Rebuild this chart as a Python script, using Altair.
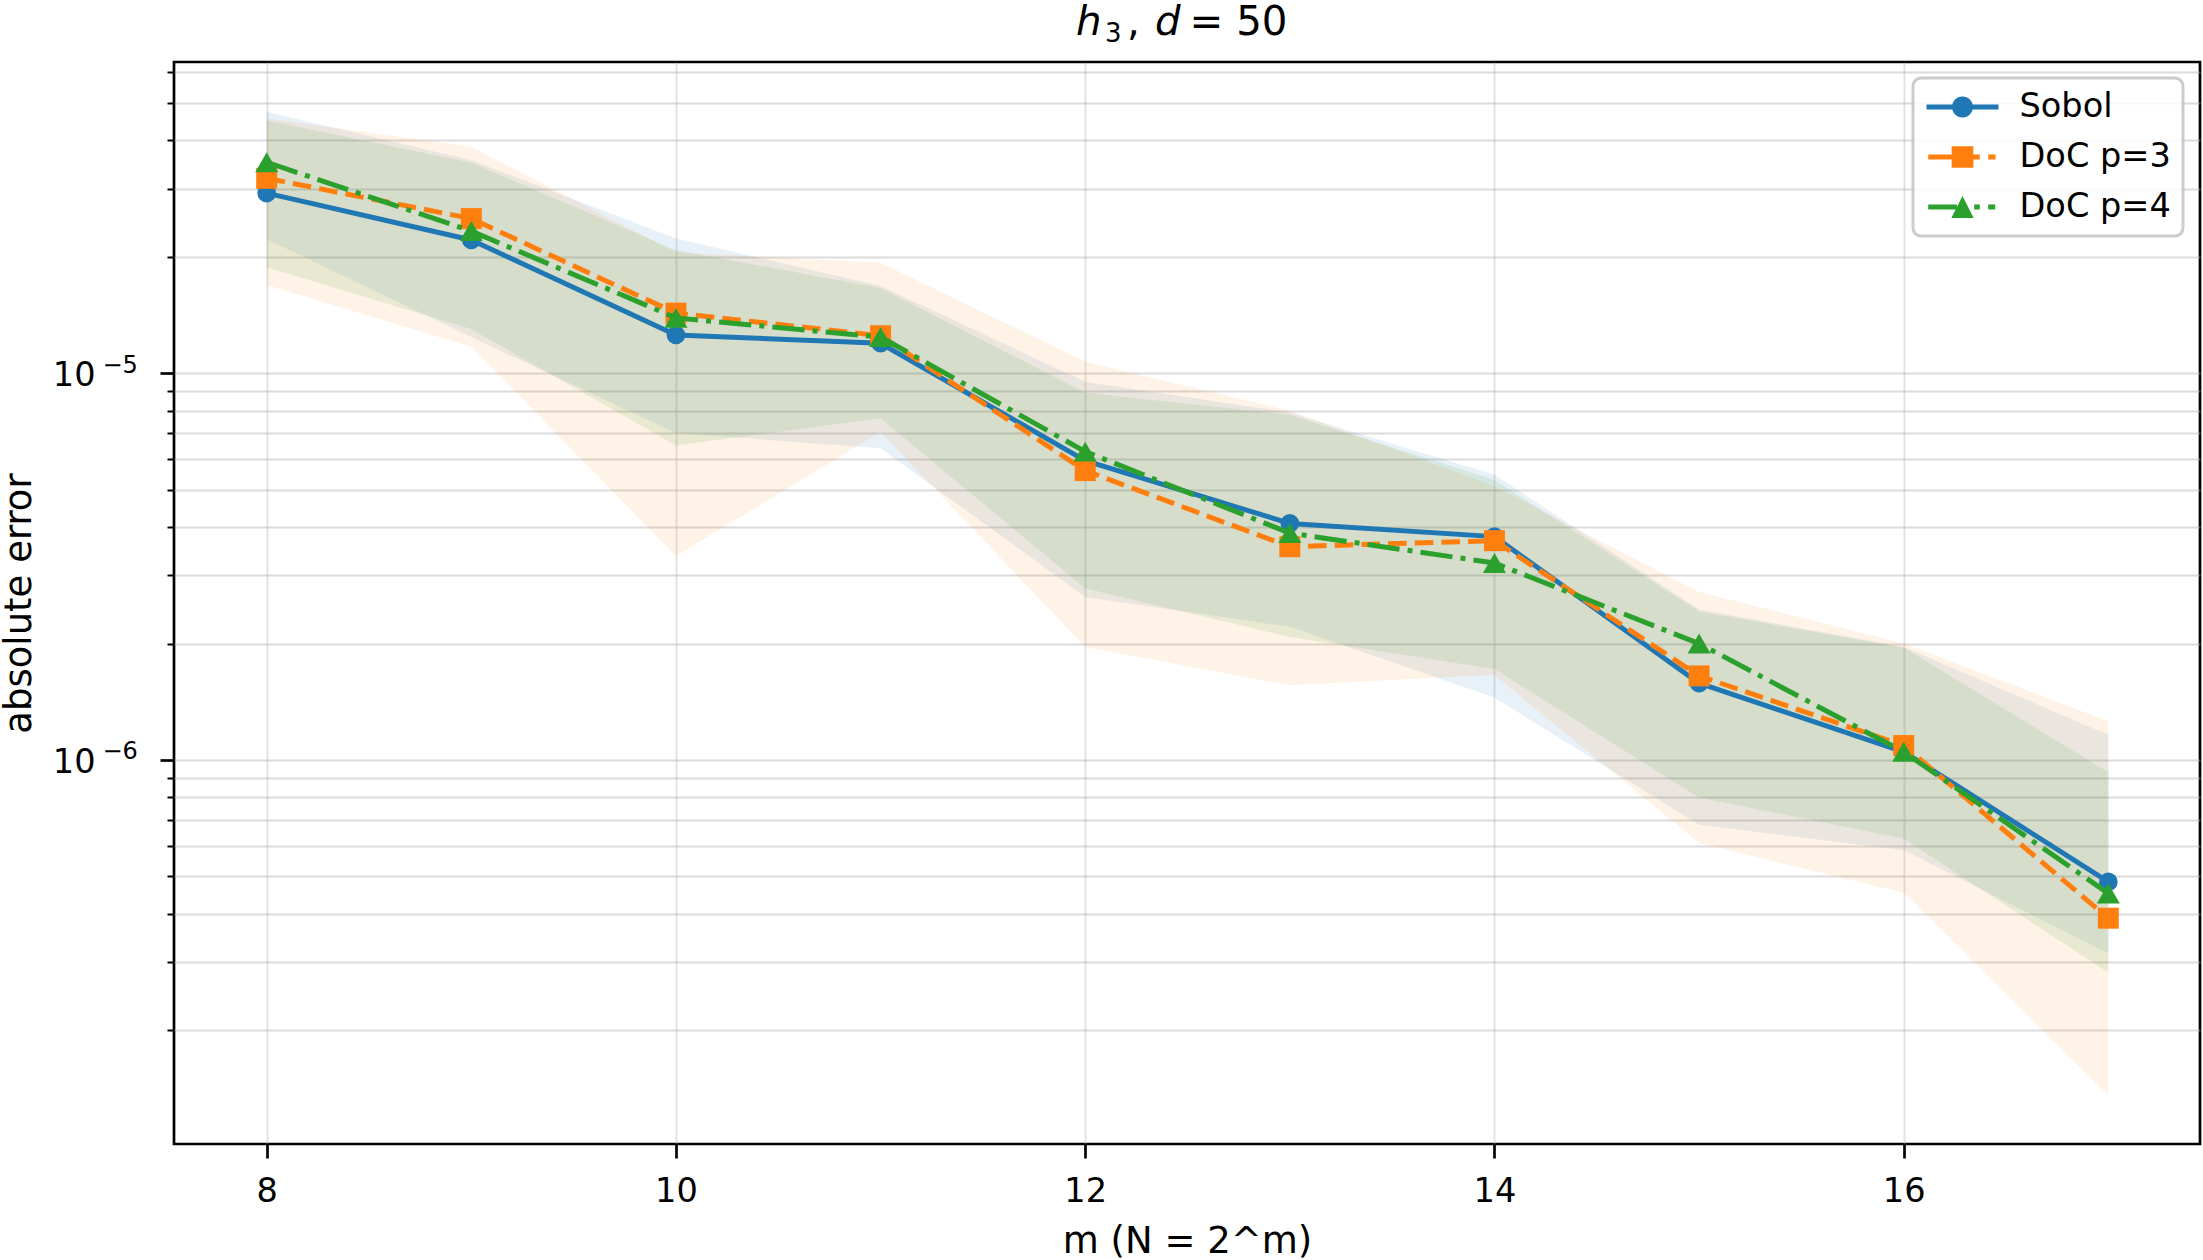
import altair as alt
import pandas as pd

# ---------------- data ----------------
m_values = [8, 9, 10, 11, 12, 13, 14, 15, 16, 17]
series_names = ["Sobol", "DoC p=3", "DoC p=4"]
series_colors = ["#1f77b4", "#ff7f0e", "#2ca02c"]

sobol_err = [2.92e-5, 2.21e-5, 1.255e-5, 1.195e-5, 5.94e-6, 4.09e-6, 3.78e-6, 1.58e-6, 1.05e-6, 4.84e-7]
sobol_hi = [4.74e-5, 3.55e-5, 2.23e-5, 1.68e-5, 9.5e-6, 7.9e-6, 5.46e-6, 2.45e-6, 1.96e-6, 1.16e-6]
sobol_lo = [2.22e-5, 1.24e-5, 7.0e-6, 6.4e-6, 2.64e-6, 2.21e-6, 1.45e-6, 6.8e-7, 5.85e-7, 3.16e-7]

doc3_err = [3.19e-5, 2.51e-5, 1.43e-5, 1.25e-5, 5.6e-6, 3.56e-6, 3.69e-6, 1.65e-6, 1.09e-6, 3.9e-7]
doc3_hi = [4.56e-5, 3.85e-5, 2.05e-5, 1.93e-5, 1.07e-5, 8.0e-6, 5.1e-6, 2.72e-6, 2.0e-6, 1.26e-6]
doc3_lo = [1.69e-5, 1.17e-5, 3.37e-6, 7.06e-6, 1.96e-6, 1.56e-6, 1.66e-6, 6.1e-7, 4.54e-7, 1.36e-7]

doc4_err = [3.51e-5, 2.33e-5, 1.39e-5, 1.24e-5, 6.27e-6, 3.86e-6, 3.23e-6, 2.0e-6, 1.05e-6, 4.52e-7]
doc4_hi = [4.5e-5, 3.5e-5, 2.08e-5, 1.66e-5, 8.9e-6, 7.8e-6, 5.3e-6, 2.42e-6, 1.95e-6, 9.3e-7]
doc4_lo = [1.88e-5, 1.3e-5, 6.5e-6, 7.65e-6, 2.78e-6, 2.08e-6, 1.72e-6, 8.0e-7, 6.27e-7, 2.82e-7]

x_tick_values = [8, 10, 12, 14, 16]
y_tick_values = [2e-7, 3e-7, 4e-7, 5e-7, 6e-7, 7e-7, 8e-7, 9e-7,
                 1e-6, 2e-6, 3e-6, 4e-6, 5e-6, 6e-6, 7e-6, 8e-6, 9e-6,
                 1e-5, 2e-5, 3e-5, 4e-5, 5e-5, 6e-5]
y_major_values = [1e-6, 1e-5]
y_major_base = ["10", "10"]
y_major_exponent = ["−6", "−5"]

title_parts = ["h", "3", ",", "d", "= 50"]
x_title = "m (N = 2^m)"
y_title = "absolute error"

# ---------------- tables ----------------
rows = []
for name, err, lo, hi in zip(series_names,
                             [sobol_err, doc3_err, doc4_err],
                             [sobol_lo, doc3_lo, doc4_lo],
                             [sobol_hi, doc3_hi, doc4_hi]):
    for m, e, l, h in zip(m_values, err, lo, hi):
        rows.append({"m": m, "series": name, "value": e, "lower": l, "upper": h})
df = pd.DataFrame(rows)
ylab_df = pd.DataFrame({"value": y_major_values, "base": y_major_base, "exp": y_major_exponent})

# ---------------- layout constants ----------------
W, H = 2026, 1082
PAD = {"left": 174, "top": 62, "right": 3, "bottom": 116}
FONT = "DejaVu Sans"
FS = 33.6
FS_TITLE_AX = 37

x_scale = alt.Scale(domain=[7.547, 17.448], nice=False, zero=False)
y_scale = alt.Scale(type="log", domain=[1.017e-7, 6.375e-5], nice=False)

major_test = "indexof([" + ",".join(repr(v) for v in y_major_values) + "], datum.value) >= 0"

x_axis = alt.Axis(values=x_tick_values, title=x_title, format="d",
                  tickSize=14, labelPadding=16, titlePadding=16,
                  titleFontSize=FS_TITLE_AX,
                  gridColor="#b0b0b0", gridOpacity=0.35, gridWidth=2)
y_axis = alt.Axis(values=y_tick_values, title=y_title, labels=False,
                  tickSize={"condition": {"test": major_test, "value": 14}, "value": 7},
                  tickWidth={"condition": {"test": major_test, "value": 2.7}, "value": 2},
                  titlePadding=120, titleFontSize=FS_TITLE_AX,
                  gridColor="#b0b0b0", gridOpacity=0.45, gridWidth=2.2)

X = alt.X("m:Q", scale=x_scale, axis=x_axis)

def Yv(field):
    return alt.Y(field, scale=y_scale, axis=y_axis)

base = alt.Chart(df)

layers = []
# bands
for name, col in zip(series_names, series_colors):
    layers.append(
        base.transform_filter(alt.datum.series == name)
        .mark_area(color=col, opacity=0.1, interpolate="linear")
        .encode(x=X, y=Yv("lower:Q"), y2="upper:Q")
    )

dashes = [None, [18.6, 8.1], [32.3, 8.1, 5.0, 8.1]]
shapes = ["circle", "square", "triangle-up"]
sizes = [346, 440, 530]
for name, col, dash, shp, sz in zip(series_names, series_colors, dashes, shapes, sizes):
    lkw = dict(color=col, strokeWidth=5, strokeJoin="round")
    if dash is not None:
        lkw["strokeDash"] = dash
    layers.append(
        base.transform_filter(alt.datum.series == name)
        .mark_line(**lkw)
        .encode(x=X, y=Yv("value:Q"))
    )
    layers.append(
        base.transform_filter(alt.datum.series == name)
        .mark_point(filled=True, shape=shp, size=sz, color=col, opacity=1)
        .encode(x=X, y=Yv("value:Q"))
    )

# y tick labels: "10" with a raised exponent, placed through the y scale
layers.append(
    alt.Chart(ylab_df).mark_text(align="right", baseline="alphabetic", font=FONT,
                                 fontSize=FS, color="black", dy=12.7)
    .encode(text="base:N", x=alt.value(-78.5), y=alt.Y("value:Q", scale=y_scale, axis=y_axis))
)
layers.append(
    alt.Chart(ylab_df).mark_text(align="left", baseline="alphabetic", font=FONT,
                                 fontSize=24, color="black", dy=-0.6)
    .encode(text="exp:N", x=alt.value(-71.5), y=alt.Y("value:Q", scale=y_scale, axis=y_axis))
)

# legend symbols (line + marker); custom paths are scaled by sqrt(size)/2 px per unit
LEG_SIZE = 1156
S = (LEG_SIZE ** 0.5) / 2.0
HT = 2.5  # half line thickness (px)

def _f(v):
    return f"{v / S:.4f}"

def _rect(x0, x1, h=HT):
    return f"M{_f(x0)},{_f(-h)}H{_f(x1)}V{_f(h)}H{_f(x0)}Z "

def _circle(r):
    return f"M{_f(r)},0A{_f(r)},{_f(r)} 0 1,1 {_f(-r)},0A{_f(r)},{_f(r)} 0 1,1 {_f(r)},0Z "

def _tri(w, h):
    return f"M0,{_f(-h)}L{_f(w)},{_f(h)}H{_f(-w)}Z "

legend_paths = [
    _rect(-36, -9.75) + _rect(9.75, 36) + _circle(10.5),
    _rect(-34.3, -10.85) + _rect(-10.85, 10.85, 10.85) + _rect(10.85, 17.3) + _rect(25.7, 33),
    _rect(-34.3, -5.6) + _tri(11.2, 11) + _rect(11.7, 17.3) + _rect(25.7, 32.7),
]
leg = alt.Legend(title=None, orient="none", legendX=1739, legendY=16,
                 symbolSize=LEG_SIZE, symbolStrokeWidth=0, symbolOpacity=1,
                 symbolOffset=20.5,
                 labelFont=FONT, labelFontSize=FS, labelColor="black",
                 labelOffset=40, labelLimit=0, rowPadding=16, padding=12)
layers.append(
    base.mark_point(filled=True, opacity=0, size=10)
    .encode(
        x=X, y=Yv("value:Q"),
        color=alt.Color("series:N", scale=alt.Scale(domain=series_names, range=series_colors), legend=leg),
        shape=alt.Shape("series:N", scale=alt.Scale(domain=series_names, range=legend_paths), legend=leg),
    )
)

# title (mathtext-like pieces)
title_x = [902, 931, 953, 981, 1015.6]
title_y = [-27, -20, -27, -27, -27]
title_fs = [40.3, 26, 40.3, 40.3, 40.3]
title_style = ["italic", "normal", "normal", "italic", "normal"]
for txt, tx, ty, tfs, tst in zip(title_parts, title_x, title_y, title_fs, title_style):
    layers.append(
        alt.Chart(pd.DataFrame({"t": [txt]}))
        .mark_text(align="left", baseline="alphabetic", font=FONT, fontSize=tfs,
                   fontStyle=tst, color="black")
        .encode(text="t:N", x=alt.value(tx), y=alt.value(ty))
    )

chart = (
    alt.layer(*layers)
    .properties(width=W, height=H, padding=PAD,
                autosize=alt.AutoSizeParams(type="none"), background="white")
    .configure_view(stroke="black", strokeWidth=2.7)
    .configure_axis(domain=False, labelFont=FONT, labelFontSize=FS, labelColor="black",
                    titleFont=FONT, titleFontWeight="normal", titleColor="black",
                    tickColor="black", tickWidth=2.7, grid=True)
    .configure_legend(strokeColor="#cccccc", fillColor="rgba(255,255,255,0.8)",
                      cornerRadius=8, strokeWidth=3)
)

chart.save("out.html", embed_options={"renderer": "svg", "actions": False})
